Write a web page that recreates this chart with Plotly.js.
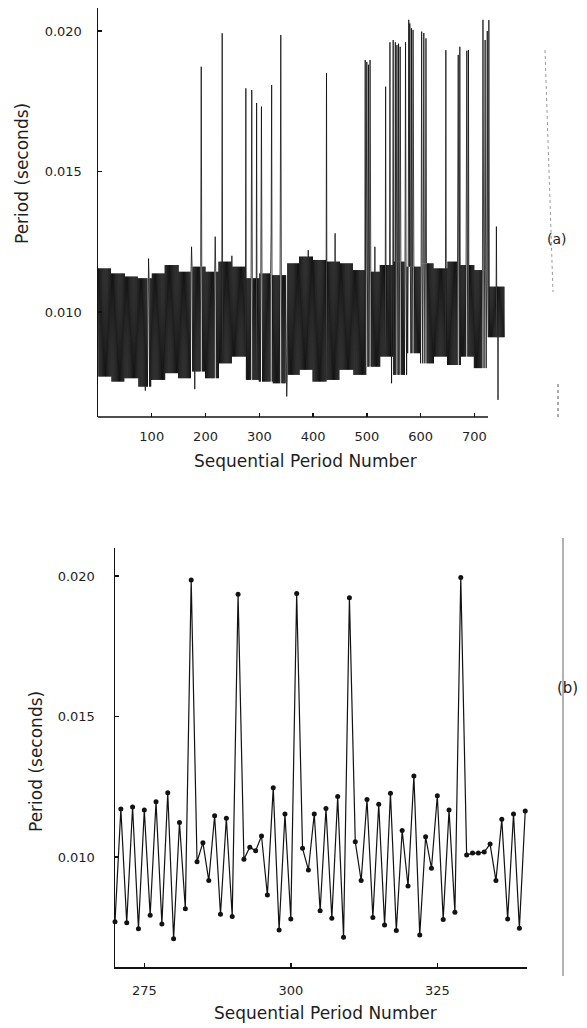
<!DOCTYPE html>
<html>
<head>
<meta charset="utf-8">
<script src="https://cdn.plot.ly/plotly-3.0.1.min.js"></script>
<style>
  html, body { margin: 0; padding: 0; background: #ffffff; }
  #chart { width: 587px; height: 1028px; }
</style>
</head>
<body>
<div id="chart"></div>
<script>
// ---------- Panel (a): full record ----------
// band envelope per 25-period bin (upper and lower edge of the dense band)
const aBinStart   = [0, 25, 50, 75, 100, 125, 150, 175, 200, 225, 250, 275, 300, 325, 350,
                     375, 400, 425, 450, 475, 500, 525, 550, 575, 600, 625, 650, 675, 700, 725];
const aBandTop    = [0.01155, 0.01137, 0.01126, 0.01120, 0.01137, 0.01167, 0.01143, 0.01161, 0.01143, 0.01179,
                     0.01161, 0.01120, 0.01137, 0.01131, 0.01173, 0.01197, 0.01185, 0.01179, 0.01173, 0.01149,
                     0.01143, 0.01167, 0.01179, 0.01161, 0.01173, 0.01155, 0.01179, 0.01167, 0.01149, 0.01090];
const aBandBottom = [0.00770, 0.00752, 0.00764, 0.00734, 0.00758, 0.00782, 0.00764, 0.00788, 0.00764, 0.00817,
                     0.00841, 0.00758, 0.00752, 0.00746, 0.00776, 0.00794, 0.00752, 0.00758, 0.00794, 0.00776,
                     0.00805, 0.00841, 0.00776, 0.00853, 0.00817, 0.00841, 0.00811, 0.00841, 0.00800, 0.00910];
const aLastPeriod = 756;
// isolated long periods (spikes) and short ones (dips)
const aSpikeN = [94, 174, 192, 218, 231, 249, 275, 286, 295, 304, 322, 323, 340, 391, 425, 441,
                 497, 500, 503, 506, 515, 535, 543, 549, 553, 556, 559, 562, 572, 578, 580, 583, 586,
                 602, 606, 610, 647, 670, 673, 686, 689, 716, 720, 724, 727, 741];
const aSpikeV = [0.01190, 0.01232, 0.01873, 0.01268, 0.01992, 0.01200, 0.01796, 0.01790, 0.01744, 0.01731, 0.01280, 0.01808, 0.01986, 0.01220, 0.01850, 0.01280,
                 0.01897, 0.01890, 0.01880, 0.01897, 0.01232, 0.01802, 0.01960, 0.01968, 0.01960, 0.01950, 0.01955, 0.01944, 0.01960, 0.02040, 0.02027, 0.02010, 0.02004,
                 0.01998, 0.01993, 0.01974, 0.01932, 0.01915, 0.01944, 0.01930, 0.01932, 0.02040, 0.01968, 0.02000, 0.02039, 0.01304];
const aDipN = [88, 180, 351, 546, 744];
const aDipV = [0.00720, 0.00725, 0.00699, 0.00746, 0.00687];

// ---------- Panel (b): periods 270 .. 340 ----------
const bFirstPeriod = 270;
const bValues = [0.00770, 0.01171, 0.00766, 0.01178, 0.00745, 0.01167, 0.00793, 0.01197, 0.00762, 0.01229,
                 0.00709, 0.01123, 0.00816, 0.01986, 0.00983, 0.01051, 0.00916, 0.01147, 0.00796, 0.01138,
                 0.00788, 0.01935, 0.00992, 0.01035, 0.01022, 0.01075, 0.00865, 0.01247, 0.00740, 0.01153,
                 0.00779, 0.01938, 0.01031, 0.00954, 0.01153, 0.00809, 0.01173, 0.00782, 0.01215, 0.00714,
                 0.01923, 0.01054, 0.00916, 0.01205, 0.00785, 0.01188, 0.00758, 0.01227, 0.00738, 0.01094,
                 0.00897, 0.01288, 0.00722, 0.01072, 0.00960, 0.01218, 0.00778, 0.01167, 0.00803, 0.01995,
                 0.01007, 0.01014, 0.01014, 0.01018, 0.01046, 0.00916, 0.01134, 0.00779, 0.01153, 0.00746,
                 0.01164];

const yTickVals = [0.010, 0.015, 0.020];
const yTickText = ['0.010', '0.015', '0.020'];
const aXTickVals = [100, 200, 300, 400, 500, 600, 700];
const bXTickVals = [275, 300, 325];

// ---------- build series ----------
const spikeMap = new Map();
aSpikeN.forEach((n, i) => spikeMap.set(n, aSpikeV[i]));
aDipN.forEach((n, i) => spikeMap.set(n, aDipV[i]));
const aX = [], aY = [];
for (let n = 0; n <= aLastPeriod; n++) {
  let b = 0;
  for (let k = 0; k < aBinStart.length; k++) if (n >= aBinStart[k]) b = k;
  let v = (n % 2 === 1) ? aBandTop[b] : aBandBottom[b];
  if (spikeMap.has(n)) v = spikeMap.get(n);
  aX.push(n); aY.push(v);
}
const bX = bValues.map((v, i) => bFirstPeriod + i);

// ---------- layout helpers (page pixels -> paper) ----------
const W = 587, H = 1028;
const px = x => x / W;
const py = y => 1 - y / H;
const FONT = 'DejaVu Sans, Liberation Sans, sans-serif';
const INK = '#121212';

const tickFont = { family: FONT, size: 13, color: '#1e1e1e' };
const titleFont = { family: FONT, size: 17, color: '#1e1e1e' };

const commonAxis = {
  ticks: 'inside', ticklen: 4, tickwidth: 1.4, tickcolor: INK,
  showgrid: false, zeroline: false, tickfont: tickFont,
  linecolor: INK, linewidth: 1.5
};

const traces = [
  {
    x: aX, y: aY, xaxis: 'x', yaxis: 'y', type: 'scatter', mode: 'lines',
    line: { color: 'rgba(0,0,0,0.92)', width: 0.8 }, hoverinfo: 'skip'
  },
  {
    x: bX, y: bValues, xaxis: 'x2', yaxis: 'y2', type: 'scatter', mode: 'lines+markers',
    line: { color: INK, width: 1.2 }, marker: { size: 5, color: INK }, cliponaxis: false
  }
];

const layout = {
  width: W, height: H,
  margin: { l: 0, r: 0, t: 0, b: 0 },
  paper_bgcolor: '#ffffff', plot_bgcolor: 'rgba(0,0,0,0)',
  showlegend: false,
  xaxis: Object.assign({}, commonAxis, {
    domain: [px(98), px(505)], range: [0, 757], anchor: 'y',
    tickvals: aXTickVals, showline: false, ticklabelstandoff: 10
  }),
  yaxis: Object.assign({}, commonAxis, {
    domain: [py(417), py(8)], range: [0.00626, 0.02082], anchor: 'x',
    tickvals: yTickVals, ticktext: yTickText, showline: true, ticklabelstandoff: 12
  }),
  xaxis2: Object.assign({}, commonAxis, {
    domain: [px(115), px(527)], range: [270, 340.3], anchor: 'y2',
    tickvals: bXTickVals, showline: true, ticklabelstandoff: 11
  }),
  yaxis2: Object.assign({}, commonAxis, {
    domain: [py(967), py(548)], range: [0.006085, 0.021], anchor: 'x2',
    tickvals: yTickVals, ticktext: yTickText, showline: true, ticklabelstandoff: 16
  }),
  shapes: [
    // x axis line of panel (a), shorter than the data
    { type: 'line', xref: 'paper', yref: 'paper', x0: px(98), x1: px(488), y0: py(417), y1: py(417),
      line: { color: INK, width: 1.5 } },
    // faint margin marks of the scan
    { type: 'line', xref: 'paper', yref: 'paper', x0: px(545), x1: px(553), y0: py(50), y1: py(292),
      line: { color: '#9a9a9a', width: 1, dash: 'dot' } },
    { type: 'line', xref: 'paper', yref: 'paper', x0: px(558), x1: px(558), y0: py(384), y1: py(417),
      line: { color: '#555', width: 1, dash: 'dot' } },
    { type: 'line', xref: 'paper', yref: 'paper', x0: px(563), x1: px(563), y0: py(538), y1: py(976),
      line: { color: '#666', width: 1 } }
  ],
  annotations: [
    { text: 'Period (seconds)', xref: 'paper', yref: 'paper', x: px(22), y: py(174),
      textangle: -90, showarrow: false, font: titleFont, xanchor: 'center', yanchor: 'middle' },
    { text: 'Sequential Period Number', xref: 'paper', yref: 'paper', x: px(305), y: py(461),
      showarrow: false, font: titleFont, xanchor: 'center', yanchor: 'middle' },
    { text: '(a)', xref: 'paper', yref: 'paper', x: px(557), y: py(239),
      showarrow: false, font: { family: FONT, size: 14, color: '#222' }, xanchor: 'center', yanchor: 'middle' },
    { text: 'Period (seconds)', xref: 'paper', yref: 'paper', x: px(36), y: py(762),
      textangle: -90, showarrow: false, font: titleFont, xanchor: 'center', yanchor: 'middle' },
    { text: 'Sequential Period Number', xref: 'paper', yref: 'paper', x: px(325), y: py(1013),
      showarrow: false, font: titleFont, xanchor: 'center', yanchor: 'middle' },
    { text: '(b)', xref: 'paper', yref: 'paper', x: px(555), y: py(688),
      showarrow: false, font: { family: FONT, size: 15, color: '#222' }, xanchor: 'left', yanchor: 'middle' }
  ]
};

Plotly.newPlot('chart', traces, layout, { staticPlot: true, displayModeBar: false });
</script>
</body>
</html>
